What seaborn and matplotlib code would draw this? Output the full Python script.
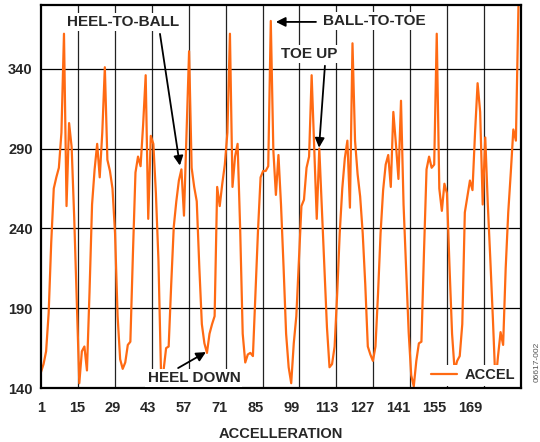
import numpy as np
import pandas as pd
import matplotlib
matplotlib.use("Agg")
import matplotlib.pyplot as plt
import seaborn as sns
from matplotlib.ticker import FixedLocator

# ---- data ----
accel = [150, 155, 163, 187, 231, 265, 272, 278, 300, 362,
         254, 306, 291, 247, 195, 143, 163, 166, 151, 200,
         255, 277, 293, 272, 300, 341, 283, 276, 265, 237,
         185, 158, 152, 156, 167, 169, 224, 275, 285, 279,
         305, 336, 246, 298, 293, 262, 220, 150, 151, 165,
         166, 205, 241, 257, 270, 277, 248, 300, 351, 278,
         266, 257, 216, 180, 168, 162, 174, 180, 185, 266,
         254, 268, 280, 300, 362, 266, 285, 293, 240, 174,
         156, 161, 162, 160, 199, 239, 272, 276, 276, 279,
         370, 289, 261, 286, 255, 216, 174, 153, 143, 168,
         185, 220, 254, 258, 278, 285, 336, 290, 246, 290,
         253, 216, 178, 153, 155, 166, 199, 237, 265, 284,
         295, 253, 356, 295, 274, 260, 237, 205, 166, 161,
         157, 166, 199, 237, 264, 280, 286, 266, 313, 293,
         271, 320, 255, 215, 175, 148, 141, 157, 168, 169,
         225, 277, 285, 278, 280, 362, 265, 251, 268, 262,
         216, 174, 151, 157, 160, 180, 250, 260, 270, 264,
         300, 331, 313, 255, 297, 255, 220, 183, 143, 160,
         175, 167, 215, 250, 275, 302, 295, 379]
sample = list(range(1, len(accel) + 1))
x_ticks = [1, 15, 29, 43, 57, 71, 85, 99, 113, 127, 141, 155, 169]
y_ticks = [140, 190, 240, 290, 340]

df = pd.DataFrame({"sample": sample, "accel": accel})

sns.set_style("white")
plt.rcParams['font.family'] = ['Liberation Sans', 'DejaVu Sans']
plt.rcParams['font.weight'] = 'bold'

fig = plt.figure(figsize=(5.4, 4.42), dpi=100)
ax = fig.add_axes([41/540, 1-388/442, 480/540, 383/442])

sns.lineplot(data=df, x="sample", y="accel", ax=ax, color="#FF6A13",
             linewidth=1.6, label="ACCEL")

ax.set_xlim(1, 189)
ax.set_ylim(140, 380)
ax.set_xticks(x_ticks)
ax.set_yticks(y_ticks)
ax.set_xticklabels([str(v) for v in x_ticks], fontsize=10.5, fontweight='bold')
ax.set_yticklabels([str(v) for v in y_ticks], fontsize=10.5, fontweight='bold')
ax.xaxis.set_minor_locator(FixedLocator(np.linspace(1, 189, 14)[1:-1]))
ax.tick_params(axis='both', which='both', length=0)
ax.tick_params(axis='x', pad=9)
ax.tick_params(axis='y', pad=6)
ax.grid(True, which='minor', axis='x', color='#222222', linewidth=0.9)
ax.grid(True, which='major', axis='y', color='black', linewidth=0.9)
ax.grid(False, which='major', axis='x')
ax.set_axisbelow(True)
for s in ax.spines.values():
    s.set_color('black')
    s.set_linewidth(1.6)
    s.set_visible(True)

ax.set_xlabel("ACCELLERATION", fontsize=10.5, fontweight='bold', labelpad=9)
ax.set_ylabel("")

tb = dict(facecolor='white', edgecolor='none', pad=1.5)
tkw = dict(fontsize=11, fontweight='bold', ha='center', va='center', bbox=tb)
ap = dict(arrowstyle='-|>', color='black', lw=1.3, mutation_scale=14,
          shrinkA=0, shrinkB=0)

ax.text(33.1, 369.4, "HEEL-TO-BALL", **tkw)
ax.annotate('', xy=(55.4, 279.4), xytext=(47.6, 361.9), arrowprops=ap)

ax.text(131.4, 370.0, "BALL-TO-TOE", **tkw)
ax.annotate('', xy=(93.0, 369.4), xytext=(108.7, 369.4), arrowprops=ap)

ax.text(106.0, 349.4, "TOE UP", **tkw)
ax.annotate('', xy=(109.9, 290.6), xytext=(112.2, 341.9), arrowprops=ap)

ax.text(60.9, 146.2, "HEEL DOWN", **tkw)
ax.annotate('', xy=(65.6, 162.5), xytext=(54.7, 152.5), arrowprops=ap)

leg = ax.legend(loc='lower right', frameon=True, fancybox=False,
                handlelength=1.8, handletextpad=0.5, borderpad=0.25,
                borderaxespad=0.15, prop={'weight': 'bold', 'size': 10.5})
leg.get_frame().set_facecolor('white')
leg.get_frame().set_edgecolor('none')
leg.get_frame().set_alpha(1)

fig.text(537/540, 1-362/442, "06617-002", rotation=90, fontsize=6,
         color='#555555', ha='center', va='center', fontweight='normal')

fig.savefig("out.png", dpi=100)
